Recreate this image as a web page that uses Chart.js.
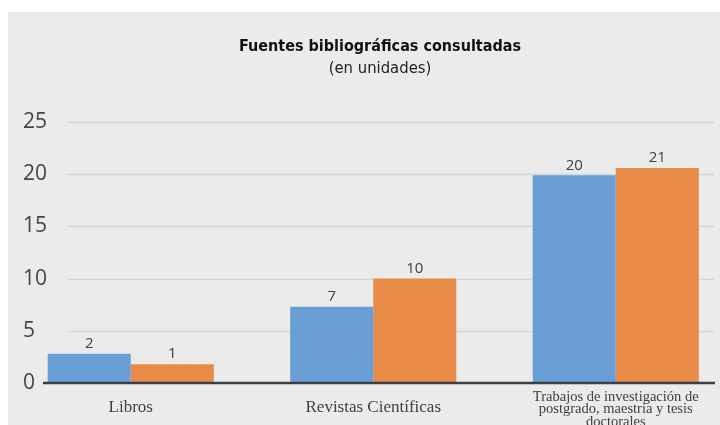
<!DOCTYPE html>
<html>
<head>
<meta charset="utf-8">
<script src="https://cdn.jsdelivr.net/npm/chart.js@4/dist/chart.umd.min.js"></script>
<style>
html,body{margin:0;padding:0;background:#ffffff;}
#wrap{position:relative;width:720px;height:425px;}
</style>
</head>
<body>
<div id="wrap"><canvas id="c" width="720" height="425"></canvas></div>
<script>
// ---- data ----
const categories = [
  "Libros",
  "Revistas Científicas",
  ["Trabajos de investigación de", "postgrado, maestría y tesis", "doctorales"]
];
const seriesA = [2.8, 7.3, 19.9];      // blue bars (drawn heights)
const seriesB = [1.8, 10.0, 20.6];     // orange bars (drawn heights)
const labelsA = ["2", "7", "20"];      // printed value labels
const labelsB = ["1", "10", "21"];
const yTicks = [0, 5, 10, 15, 20, 25];
const titleText = "Fuentes bibliográficas consultadas";
const subtitleText = "(en unidades)";

const panelBg = {
  id: 'panelBg',
  beforeDraw(chart) {
    const ctx = chart.ctx;
    ctx.save();
    ctx.fillStyle = '#ebebeb';
    ctx.fillRect(8, 12, chart.width - 8, chart.height - 12);
    ctx.restore();
  }
};

const widenX = {
  id: 'widenX',
  afterLayout(chart) {
    const x = chart.scales.x;
    x.left = 9.5; x.right = 737; x.width = x.right - x.left;
    x.configure();
  }
};

const gridAndBase = {
  id: 'gridAndBase',
  beforeDatasetsDraw(chart) {
    const y = chart.scales.y, ctx = chart.ctx;
    ctx.save();
    ctx.strokeStyle = '#d5d5d5';
    ctx.lineWidth = 1.5;
    yTicks.forEach(v => {
      if (v === 0) return;
      const py = Math.round(y.getPixelForValue(v)) + 0.5;
      ctx.beginPath(); ctx.moveTo(67, py); ctx.lineTo(714, py); ctx.stroke();
    });
    ctx.restore();
  },
  afterDatasetsDraw(chart) {
    const y = chart.scales.y, ctx = chart.ctx;
    ctx.save();
    ctx.strokeStyle = '#3b4045';
    ctx.lineWidth = 2.5;
    const py = y.getPixelForValue(0);
    ctx.beginPath(); ctx.moveTo(43, py); ctx.lineTo(715, py); ctx.stroke();
    ctx.fillStyle = '#404040';
    ctx.font = '15px "Open Sans"';
    ctx.textAlign = 'center';
    ctx.textBaseline = 'middle';
    [labelsA, labelsB].forEach((labs, di) => {
      const meta = chart.getDatasetMeta(di);
      meta.data.forEach((el, i) => {
        ctx.fillText(labs[i], el.x, el.y - 10);
      });
    });
    ctx.restore();
  }
};

new Chart(document.getElementById('c'), {
  type: 'bar',
  data: {
    labels: categories,
    datasets: [
      { data: seriesA, backgroundColor: '#6a9fd6', borderWidth: 0 },
      { data: seriesB, backgroundColor: '#e98b48', borderWidth: 0 }
    ]
  },
  options: {
    responsive: false,
    animation: false,
    events: [],
    layout: { padding: { left: 40, right: 0, top: 0, bottom: 0 } },
    datasets: { bar: { barPercentage: 1.0, categoryPercentage: 0.685 } },
    plugins: {
      legend: { display: false },
      tooltip: { enabled: false },
      title: {
        display: true, text: titleText, color: '#111111',
        font: { family: '"DejaVu Sans Condensed", "Liberation Sans", sans-serif', size: 16, weight: 'bold', lineHeight: 1.2 },
        padding: { top: 37, bottom: 0 }
      },
      subtitle: {
        display: true, text: subtitleText, color: '#222222',
        font: { family: '"DejaVu Sans Condensed", "Liberation Sans", sans-serif', size: 16.5, weight: 'normal', lineHeight: 1.2 },
        padding: { top: 3, bottom: 43 }
      }
    },
    scales: {
      x: {
        grid: { display: false, drawTicks: false },
        border: { display: false },
        ticks: {
          color: '#404040', padding: 14, crossAlign: 'center', maxRotation: 0, autoSkip: false,
          font: (c) => (c.index === 2
            ? { family: '"Liberation Serif"', size: 14.5, lineHeight: 0.86 }
            : { family: '"Liberation Serif"', size: 17, lineHeight: 1 })
        },
        afterFit(s) { s.height = 42; }
      },
      y: {
        min: 0, max: 25,
        grid: { display: false, drawTicks: false },
        border: { display: false },
        afterBuildTicks(s) { s.ticks = yTicks.map(v => ({ value: v })); },
        ticks: {
          mirror: true, crossAlign: 'near', padding: -17,
          color: '#454545',
          font: { family: '"Open Sans"', size: 21 }
        },
        afterFit(s) { s.width = 0; }
      }
    }
  },
  plugins: [panelBg, widenX, gridAndBase]
});
</script>
</body>
</html>
